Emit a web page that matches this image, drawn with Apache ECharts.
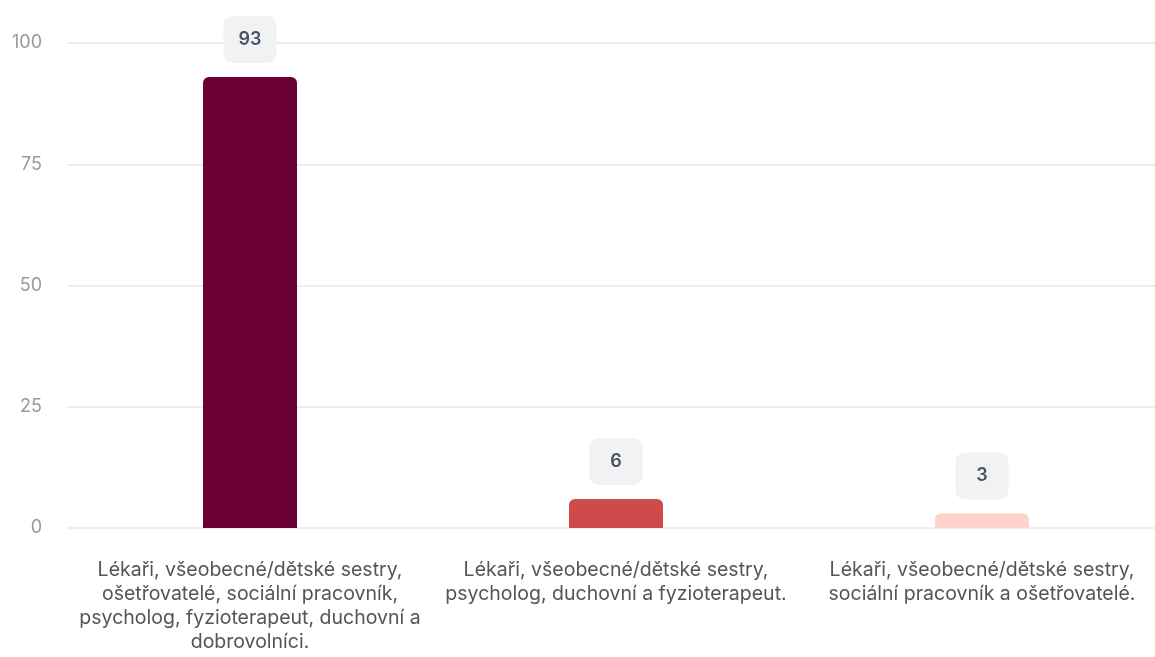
<!DOCTYPE html>
<html>
<head>
<meta charset="utf-8">
<script src="https://cdn.jsdelivr.net/npm/echarts@6/dist/echarts.min.js"></script>
<style>
  html, body { margin: 0; padding: 0; background: #ffffff; overflow: hidden; }
  #chart { width: 1155px; height: 657px; }
</style>
</head>
<body>
<div id="chart"></div>
<script>
// Team composition groups (labels wrapped as shown under the axis)
const categories = [
  'Lékaři, všeobecné/dětské sestry,\nošetřovatelé, sociální pracovník,\npsycholog, fyzioterapeut, duchovní a\ndobrovolníci.',
  'Lékaři, všeobecné/dětské sestry,\npsycholog, duchovní a fyzioterapeut.',
  'Lékaři, všeobecné/dětské sestry,\nsociální pracovník a ošetřovatelé.'
];
const values = [93, 6, 3];
const barColors = ['#6b0035', '#cf4a4b', '#fdd3cc'];
const yTicks = [0, 25, 50, 75, 100];

const chart = echarts.init(document.getElementById('chart'), null, { renderer: 'canvas' });

chart.setOption({
  backgroundColor: '#ffffff',
  animation: false,
  textStyle: { fontFamily: 'Inter, "Noto Sans", sans-serif' },
  // plot area runs slightly past the right edge of the canvas
  grid: { left: 67, width: 1098, top: 43, bottom: 129, containLabel: false, outerBoundsMode: 'none' },
  xAxis: {
    type: 'category',
    data: categories,
    axisLine: { show: false },
    axisTick: { show: false },
    axisLabel: {
      interval: 0,
      margin: 30,
      color: '#555555',
      fontSize: 19.5,
      lineHeight: 24,
      align: 'center'
    }
  },
  yAxis: {
    type: 'value',
    min: yTicks[0],
    max: yTicks[yTicks.length - 1],
    interval: yTicks[1] - yTicks[0],
    axisLine: { show: false },
    axisTick: { show: false },
    axisLabel: { color: '#999999', fontSize: 18, margin: 25 },
    splitLine: { lineStyle: { color: '#e9e9e9', width: 1.5 } }
  },
  series: [{
    type: 'bar',
    barWidth: 94,
    data: values.map((v, i) => ({ value: v, itemStyle: { color: barColors[i] } })),
    itemStyle: { borderRadius: [6, 6, 0, 0] },
    label: {
      show: true,
      position: 'top',
      distance: 14,
      color: '#4a5063',
      fontSize: 18,
      fontWeight: 600,
      lineHeight: 19,
      backgroundColor: '#f1f2f4',
      borderRadius: 9,
      padding: [14, 0, 14, 0],
      width: 53,
      align: 'center'
    }
  }]
});
</script>
</body>
</html>
